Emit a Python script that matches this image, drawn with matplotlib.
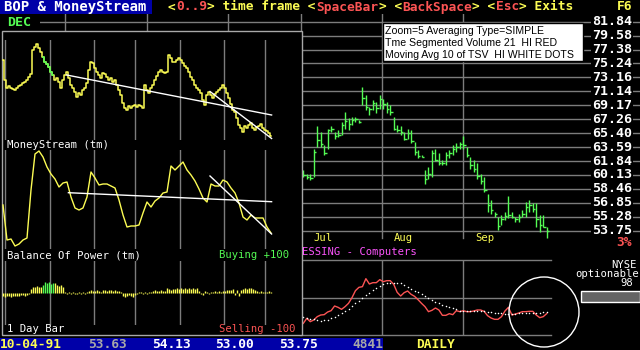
import matplotlib
matplotlib.use('Agg')
import matplotlib.pyplot as plt
from matplotlib.patches import Rectangle, Circle
from matplotlib.transforms import blended_transform_factory
import numpy as np

# ---------------- data ----------------
price_labels = [81.84, 79.58, 77.38, 75.24, 73.16, 71.14, 69.17, 67.26,
                65.40, 63.59, 61.84, 60.13, 58.46, 56.85, 55.28, 53.75]

# daily bars, Jul -> 10-04-91
day_high = [60.7, 60.3, 60.3, 63.4, 66.3, 65.6, 63.9, 66.0, 66.3, 65.6,
            65.8, 66.9, 68.2, 67.4, 67.6, 67.6, 67.1, 71.8, 70.6, 69.0,
            69.9, 69.7, 70.6, 70.1, 69.7, 69.2, 67.6, 66.5, 66.3, 65.6,
            66.0, 65.8, 64.3, 63.2, 62.6, 60.7, 61.1, 63.2, 63.4, 62.8,
            61.95, 63.0, 63.2, 63.9, 64.1, 64.3, 65.0, 63.6, 62.4, 61.95,
            61.6, 60.3, 59.9, 57.9, 57.2, 55.8, 55.3, 55.5, 55.8, 57.6,
            55.8, 55.3, 55.6, 56.0, 57.0, 57.2, 56.8, 56.8, 55.5, 55.5, 54.13]
day_low = [59.9, 59.7, 59.5, 59.9, 63.6, 63.6, 62.6, 63.4, 65.6, 64.7,
           64.9, 65.2, 66.0, 65.8, 66.5, 66.9, 66.7, 69.2, 68.5, 67.8,
           68.5, 68.1, 68.7, 68.7, 68.1, 67.8, 65.8, 65.6, 65.2, 64.5,
           64.7, 64.1, 62.6, 62.2, 62.3, 59.1, 59.7, 59.9, 61.8, 61.4,
           61.4, 61.4, 62.2, 62.6, 63.0, 63.4, 63.4, 62.4, 60.9, 60.5,
           59.7, 59.1, 58.1, 55.8, 55.6, 55.3, 53.8, 54.4, 54.9, 55.1,
           55.1, 54.7, 54.7, 55.3, 55.3, 55.8, 55.8, 54.2, 53.6, 54.2, 53.00]
day_close = [60.1, 59.9, 59.8, 63.0, 64.5, 64.0, 62.8, 65.8, 66.0, 65.0,
             65.2, 66.5, 67.0, 66.6, 67.2, 67.3, 66.9, 70.2, 69.0, 68.6,
             69.5, 68.8, 70.0, 69.4, 68.6, 68.2, 66.0, 65.8, 65.5, 64.7,
             65.4, 64.4, 63.0, 62.5, 62.4, 59.6, 60.3, 62.8, 62.0, 61.6,
             61.6, 62.6, 62.8, 63.4, 63.6, 64.0, 63.8, 62.6, 61.4, 60.9,
             60.0, 59.4, 58.3, 56.6, 56.0, 55.6, 54.3, 55.0, 55.4, 55.5,
             55.3, 55.0, 55.2, 55.6, 56.4, 56.6, 56.2, 55.0, 54.4, 54.2, 53.75]
month_lines = [-68.5, -45.0, -21.7, -0.6, 22.6, 46.0]
month_names = ['Jul', 'Aug', 'Sep']

# time segmented volume and its 10 day average
tsv = [35, 50, 40, 45, 55, 60, 61, 69, 73, 87,
       83, 77, 85, 95, 112, 133, 143, 145, 169, 153,
       157, 157, 166, 160, 163, 163, 152, 128, 117, 127,
       132, 122, 116, 106, 95, 85, 70, 74, 81, 75,
       59, 59, 64, 61, 73, 70, 73, 70, 70, 72,
       75, 75, 71, 58, 51, 47, 47, 55, 72, 83,
       60, 63, 66, 70, 70, 71, 71, 60, 52, 55, 64]
tsv_ma = [55, 51, 48, 47, 45, 43, 44, 46, 50, 55,
          60, 66, 72, 79, 87, 95, 103, 111, 119, 126,
          134, 142, 147, 152, 157, 157, 157, 156, 155, 149,
          144, 139, 133, 128, 123, 116, 110, 105, 100, 96,
          91, 86, 83, 80, 77, 73, 73, 73, 73, 72,
          72, 72, 71, 70, 68, 67, 66, 65, 64, 63,
          63, 64, 65, 66, 67, 67, 67, 67, 67, 68, 70]

# BOP & MoneyStream window (Dec -> Oct, daily)
bop_close = [69.0, 65.0, 63.4,
             63.8, 63.4, 63.2, 63.0, 63.4, 63.8, 64.0, 64.4, 64.6, 65.0, 65.6, 66.2,
             71.0, 71.6, 72.2, 71.4, 70.6,
             69.6, 68.6, 68.2, 67.6, 66.6, 66.0, 65.0,
             65.4, 64.6, 63.4, 65.0, 66.0, 66.6,
             65.4, 64.0, 63.4, 62.6, 61.6, 62.4, 62.0, 63.0, 63.4, 64.4, 67.0, 68.6,
             68.4, 67.4, 66.6, 66.0, 65.4, 66.4,
             66.2, 65.6, 65.0, 65.4, 64.6, 65.0, 64.0, 63.0,
             62.0, 60.4, 59.4, 59.0, 59.8, 59.4, 59.8, 60.0, 59.6, 60.0, 59.8, 59.4,
             64.0, 63.0, 62.4, 63.4, 64.0, 65.0, 65.8, 66.6, 67.0, 66.6, 66.4, 66.6,
             70.0, 69.4, 68.6, 68.6, 69.0,
             69.4, 69.0, 68.4, 67.8, 67.4,
             66.6, 65.6, 65.0, 64.0, 63.4, 63.0, 62.4, 61.0, 60.0,
             62.0, 62.6, 62.0, 61.4, 62.2, 62.6, 63.0, 63.4, 64.0,
             63.4, 62.4, 61.4, 60.2, 59.0, 58.6, 57.4, 56.0,
             55.4, 54.6, 55.8, 55.4, 56.0, 56.4, 55.4, 55.0, 55.6, 55.8, 56.2, 55.4,
             55.0, 54.8, 54.4, 53.8]
moneystream = [45, 10, 11, 4, 6, 10, 12, 60, 96, 99,
               93, 83, 76, 71, 63, 67, 68, 53, 42, 40,
               42, 53, 78, 72, 65, 66, 66, 64, 62, 50,
               35, 23, 24, 24, 25, 37, 48, 43, 49, 52,
               57, 58, 84, 80, 84, 88, 80, 75, 69, 61,
               52, 48, 66, 64, 64, 70, 68, 62, 57, 47,
               33, 30, 35, 32, 32, 32, 23, 17]
bop_power = [-10, -12, -8, -10, -12, -9, -10, -8, -10, -7, -6, -8, -5, -4,
             14, 18, 20, 22, 20, 18,
             25, 33, 30, 33, 28, 32, 30,
             25, 22, 24, 20,
             4, -3, 2, -4, 3, -2, -4, 2, -3, 3, -2, 4,
             6, 8, 5, 7, 8, 6, 4,
             8, 9, 7, 8, 9, 7, 8, 6, 5, 3,
             -8, -12, -10, -6, -9, -11, -5,
             -3, 2, 3, -2, 2, -3, 2, 3,
             6, 8, 5, 7, 9, 6, 5,
             15, 12, 10, 14, 12, 15, 13, 16, 14, 15, 12, 16, 14, 15, 13, 15,
             5, -4, -6, 6, 2, -3,
             3, 4, 5, 2, 6, 4, 7, 5, 10, 8,
             10, 12, -5, 8, -8,
             10, 14, 16, 12, 17, 15, 12, 10,
             6, 3, 5, 2, 4, 3, 5, 3]
green_days = (20, 25)
left_month_lines = [1, 23.5, 45.5, 66, 88.5, 110.5, 131]
price_trend = [([31.8, 134.3], [66.0, 58.0]), ([103.5, 134.3], [62.7, 53.3])]
ms_trend = [([32.7, 134.3], [57.3, 48.3]), ([103.5, 134.3], [74, 16])]

quote = ['10-04-91', '53.63', '54.13', '53.00', '53.75', '4841']

# ---------------- look ----------------
W, H = 640, 350
BLUE = '#0000a8'; YEL = '#fcfc54'; RED = '#fc5454'; GRN = '#54fc54'
MAG = '#fc54fc'; GREY = '#a8a8a8'; GRID = '#7c7c7c'
MONO = 'DejaVu Sans Mono'
BAR0, BARW = 303.3, 3.477      # pixel of first daily bar, pixels per bar
LX0, LDX = 3.0, 2.0            # same for the BOP window

fig = plt.figure(figsize=(6.4, 3.5), dpi=100, facecolor='black')


def px_axes(x0, y0, x1, y1, z):
    ax = fig.add_axes([x0 / W, 1 - y1 / H, (x1 - x0) / W, (y1 - y0) / H], zorder=z)
    ax.set_axis_off()
    return ax


# ---- main price chart ----
ax = px_axes(40, 14, 640, 240, 1)
ax.set_yscale('log')
ax.set_xlim((40 - BAR0) / BARW, (640 - BAR0) / BARW)
r = (price_labels[0] / price_labels[-1]) ** (1 / 15)
step = (230.7 - 21.7) / 15
ax.set_ylim(price_labels[-1] / r ** ((240 - 230.7) / step),
            price_labels[0] * r ** ((21.7 - 14) / step))
for p in price_labels:
    ax.axhline(p, color=GRID, lw=1)
for m in month_lines:
    ax.axvline(m, color=GRID, lw=1, ymin=0.01)
days = np.arange(len(day_close))
ax.vlines(days, day_low, day_high, color=GRN, lw=1)
ax.hlines(day_close, days, days + 0.7, color=GRN, lw=1)
tr = blended_transform_factory(ax.transAxes, ax.transData)
for p in price_labels:
    ax.text((632 - 40) / 600, p, f'{p:.2f}', transform=tr, ha='right', va='center',
            color='white', family=MONO, weight='bold', size=9.6,
            bbox=dict(fc='black', ec='none', pad=0.6))

# ---- TSV panel ----
ax2 = px_axes(300, 260, 551, 335, 1)
ax2.set_xlim((300 - BAR0) / BARW, (551 - BAR0) / BARW)
ax2.set_ylim(0, 225)
for v in (0, 110, 225):
    ax2.axhline(v, color=GRID, lw=1, clip_on=False)
for m in month_lines[-2:]:
    ax2.axvline(m, color=GRID, lw=1)
ax2.plot(np.arange(len(tsv)), tsv, color=RED, lw=1)
ax2.plot(np.arange(len(tsv_ma)), tsv_ma, 'o', color='white', ms=1.1, mew=0)

# ---- BOP & MoneyStream window ----
bg = px_axes(0, 0, W, H, 2)
bg.set_xlim(0, W); bg.set_ylim(H, 0)
bg.add_patch(Rectangle((1.5, 30.5), 300.5, 304.5, fc='black', ec=GREY, lw=1))

lx = ((1.5 - LX0) / LDX, (302 - LX0) / LDX)

a1 = px_axes(1.5, 40, 302, 140, 3)
a1.set_xlim(*lx); a1.set_ylim(53, 73)
for m in left_month_lines:
    a1.axvline(m, color=GRID, lw=1)
xi = np.arange(len(bop_close))
a1.step(xi, bop_close, where='mid', color=YEL, lw=1.1)
g0, g1 = green_days
a1.step(xi[g0:g1 + 1], bop_close[g0:g1 + 1], where='mid', color=GRN, lw=1.1)
for xs, ys in price_trend:
    a1.plot(xs, ys, color='white', lw=1)

a2 = px_axes(1.5, 150, 302, 249, 3)
a2.set_xlim(*lx); a2.set_ylim(1, 100)
for m in left_month_lines:
    a2.axvline(m, color=GRID, lw=1)
a2.plot(np.arange(len(moneystream)) * 2, moneystream, color=YEL, lw=1)
for xs, ys in ms_trend:
    a2.plot(xs, ys, color='white', lw=1)

a3 = px_axes(1.5, 261, 302, 325, 3)
a3.set_xlim(*lx); a3.set_ylim(-100, 100)
for m in left_month_lines:
    a3.axvline(m, color=GRID, lw=1)
bi = np.arange(len(bop_power))
cols = [GRN if g0 <= i <= g1 else YEL for i in bi]
a3.vlines(bi, 0, bop_power, colors=cols, lw=1)

# ---- overlay: bars, labels, legend ----
ov = px_axes(0, 0, W, H, 4)
ov.set_xlim(0, W); ov.set_ylim(H, 0)


def txt(x, y, s, color, size=9.3, ha='left', weight='bold', family=MONO):
    ov.text(x, y, s, color=color, size=size, ha=ha, va='center',
            weight=weight, family=family)


ov.add_patch(Rectangle((0, 0), 152, 14, fc=BLUE, ec='none'))
txt(4, 7, 'BOP & MoneyStream', 'white', size=10)
cw = 7.8
n = 0
for s, c in [('<', YEL), ('0..9', RED), ('> time frame <', YEL), ('SpaceBar', RED),
             ('> <', YEL), ('BackSpace', RED), ('> <', YEL), ('Esc', RED), ('> Exits', YEL)]:
    txt(168 + n * cw, 7, s, c)
    n += len(s)
txt(632, 7, 'F6', YEL, ha='right')
txt(7, 22, 'DEC', GRN, size=9.6)
txt(632, 243, '3%', RED, ha='right')

small = dict(size=7.6, weight='normal')
txt(7, 145, 'MoneyStream (tm)', 'white', **small)
txt(7, 255, 'Balance Of Power (tm)', 'white', **small)
txt(219, 255, 'Buying +100', GRN, **small)
txt(7, 329, '1 Day Bar', 'white', **small)
txt(219, 329, 'Selling -100', RED, **small)
txt(302, 252, 'ESSING - Computers', MAG, **small)
for m, name in zip(month_lines[-3:], month_names):
    txt(BAR0 + BARW * m + 12, 238, name, YEL, **small)

ov.add_patch(Rectangle((383, 23), 199.5, 38, fc='white', ec='black', lw=1))
for y, s in [(31, 'Zoom=5 Averaging Type=SIMPLE'),
             (43, 'Tme Segmented Volume 21  HI RED'),
             (55, 'Moving Avg 10 of TSV  HI WHITE DOTS')]:
    txt(385, y, s, 'black', size=7.6, weight='normal', family='Liberation Sans')

txt(637, 265, 'NYSE', 'white', ha='right', **small)
txt(639, 274, 'optionable', 'white', ha='right', **small)
txt(633, 283, '98', 'white', ha='right', **small)
ov.add_patch(Rectangle((580.5, 290.5), 59, 11, fc='#646464', ec='white', lw=1))
ov.add_patch(Circle((544, 312), 35, fill=False, ec='white', lw=1))

ov.add_patch(Rectangle((0, 338), 383, 12, fc=BLUE, ec='none'))
for x, s, c in zip([0, 88, 152, 215, 279, 352], quote,
                   [YEL, GREY, 'white', 'white', 'white', GREY]):
    txt(x, 344, s, c)
txt(416, 344, 'DAILY', YEL)

fig.savefig('out.png', dpi=100, facecolor='black')
